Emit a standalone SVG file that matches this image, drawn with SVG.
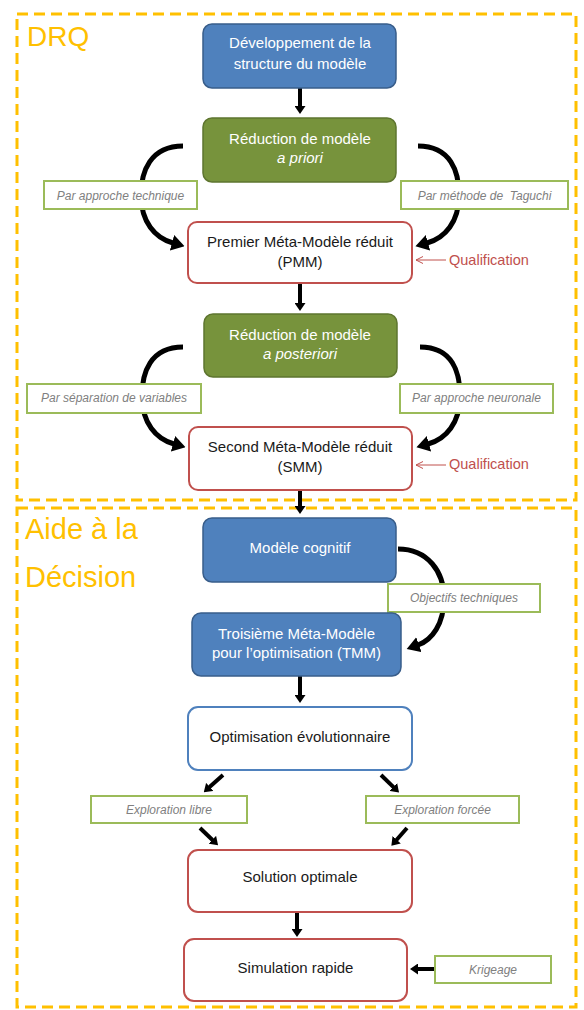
<svg xmlns="http://www.w3.org/2000/svg" width="584" height="1010" viewBox="0 0 584 1010">
<style>
.frame{fill:none;stroke:#FFC000;stroke-width:3;stroke-dasharray:11 6}
.title{font-family:"Liberation Sans",Arial,sans-serif;font-size:28px;fill:#FFC000}
.blue{fill:#4F81BD;stroke:#385D8A;stroke-width:1.5}
.green{fill:#77933C;stroke:#5E752F;stroke-width:1.5}
.red{fill:#fff;stroke:#C0504D;stroke-width:2}
.bluel{fill:#fff;stroke:#4F81BD;stroke-width:2}
.lab{fill:#fff;stroke:#9BBB59;stroke-width:2}
.t{font-family:"Liberation Sans",Arial,sans-serif;font-size:15px;text-anchor:middle}
.w{fill:#fff}
.k{fill:#1a1a1a}
.it{font-style:italic}
.lt{font-family:"Liberation Sans",Arial,sans-serif;font-size:12px;font-style:italic;fill:#808080;text-anchor:middle}
.q{font-family:"Liberation Sans",Arial,sans-serif;font-size:14.5px;fill:#C0504D}
.ar{stroke:#000;stroke-width:4;fill:none}
.cv{stroke:#000;stroke-width:5;fill:none}
.qa{stroke:#C0504D;stroke-width:1;fill:none}
</style>
<defs>
<marker id="ah" viewBox="0 0 8 11" refX="1" refY="5.5" markerWidth="8" markerHeight="11" markerUnits="userSpaceOnUse" orient="auto"><path d="M0,0 L8,5.5 L0,11 z" fill="#000"/></marker>
<marker id="ahc" viewBox="0 0 13 16" refX="1" refY="8" markerWidth="13" markerHeight="16" markerUnits="userSpaceOnUse" orient="auto"><path d="M0,0 L13,8 L0,16 z" fill="#000"/></marker>
<marker id="ahq" viewBox="0 0 8 8" refX="7" refY="4" markerWidth="8" markerHeight="8" markerUnits="userSpaceOnUse" orient="auto"><path d="M0,0.5 L7,4 L0,7.5" fill="none" stroke="#C0504D" stroke-width="1"/></marker>
</defs>

<g id="frames">
<rect class="frame" x="17" y="14" width="559" height="486"/>
<rect class="frame" x="17" y="508" width="559" height="499"/>
<text class="title" x="27" y="46">DRQ</text>
<text class="title" x="25" y="539" style="font-size:29px">Aide à la</text>
<text class="title" x="25" y="587" style="font-size:29px">Décision</text>
</g>

<g id="connectors">
<line class="ar" x1="300" y1="88" x2="300" y2="107" marker-end="url(#ah)"/>
<line class="ar" x1="300" y1="283" x2="300" y2="304" marker-end="url(#ah)"/>
<line class="ar" x1="300" y1="490" x2="300" y2="507" marker-end="url(#ah)"/>
<line class="ar" x1="300" y1="676" x2="300" y2="696" marker-end="url(#ah)"/>
<line class="ar" x1="297" y1="912" x2="297" y2="930" marker-end="url(#ah)"/>
<path class="cv" d="M183,146 C150,146 141,172 141,195 C141,222 155,238 173,243" marker-end="url(#ahc)"/>
<path class="cv" d="M418,146 C451,146 459,172 459,195 C459,222 445,238 427,243" marker-end="url(#ahc)"/>
<path class="cv" d="M183,347 C150,347 142,373 142,396 C142,423 156,439 174,444" marker-end="url(#ahc)"/>
<path class="cv" d="M420,347 C453,347 460,373 460,396 C460,423 446,439 428,444" marker-end="url(#ahc)"/>
<path class="cv" d="M398,549 C428,549 444,572 444,598 C444,624 432,640 418,645" marker-end="url(#ahc)"/>
<line class="ar" x1="223" y1="775" x2="209" y2="787.6" marker-end="url(#ah)"/>
<line class="ar" x1="381" y1="775" x2="394" y2="787.6" marker-end="url(#ah)"/>
<line class="ar" x1="200" y1="828" x2="213" y2="840.5" marker-end="url(#ah)"/>
<line class="ar" x1="407" y1="828" x2="396" y2="840.5" marker-end="url(#ah)"/>
<line class="ar" x1="435" y1="969" x2="417" y2="969" marker-end="url(#ah)"/>
<line class="qa" x1="446" y1="260" x2="416" y2="260" marker-end="url(#ahq)"/>
<line class="qa" x1="446" y1="465" x2="416" y2="465" marker-end="url(#ahq)"/>
</g>

<g id="n-dev">
<rect class="blue" x="203" y="24" width="193" height="64" rx="9"/>
<text class="t w" x="300" y="48">Développement de la</text>
<text class="t w" x="300" y="69">structure du modèle</text>
</g>
<g id="n-priori">
<rect class="green" x="203" y="118" width="193" height="64" rx="9"/>
<text class="t w" x="300" y="144">Réduction de modèle</text>
<text class="t w it" x="300" y="163">a priori</text>
</g>
<g id="l-tech">
<rect class="lab" x="44" y="181" width="153" height="28"/>
<text class="lt" x="120.5" y="200">Par approche technique</text>
</g>
<g id="l-taguchi">
<rect class="lab" x="401" y="181" width="167" height="28"/>
<text class="lt" x="484.5" y="200" style="white-space:pre">Par méthode de  Taguchi</text>
</g>
<g id="n-pmm">
<rect class="red" x="188" y="222" width="224" height="61" rx="9"/>
<text class="t k" x="300" y="247">Premier Méta-Modèle réduit</text>
<text class="t k" x="300" y="267">(PMM)</text>
</g>
<g id="q1"><text class="q" x="449" y="265">Qualification</text></g>
<g id="n-post">
<rect class="green" x="204" y="314" width="193" height="63" rx="9"/>
<text class="t w" x="300" y="340">Réduction de modèle</text>
<text class="t w it" x="300" y="359">a posteriori</text>
</g>
<g id="l-sep">
<rect class="lab" x="27" y="384" width="174" height="29"/>
<text class="lt" x="114" y="402">Par séparation de variables</text>
</g>
<g id="l-neur">
<rect class="lab" x="400" y="384" width="153" height="29"/>
<text class="lt" x="476.5" y="402">Par approche neuronale</text>
</g>
<g id="n-smm">
<rect class="red" x="189" y="427" width="223" height="63" rx="9"/>
<text class="t k" x="300" y="452">Second Méta-Modèle réduit</text>
<text class="t k" x="300" y="472">(SMM)</text>
</g>
<g id="q2"><text class="q" x="449" y="469">Qualification</text></g>
<g id="n-cog">
<rect class="blue" x="203" y="518" width="193" height="64" rx="9"/>
<text class="t w" x="300" y="553">Modèle cognitif</text>
</g>
<g id="l-obj">
<rect class="lab" x="388" y="584" width="152" height="28"/>
<text class="lt" x="464" y="602">Objectifs techniques</text>
</g>
<g id="n-tmm">
<rect class="blue" x="192" y="613" width="209" height="63" rx="9"/>
<text class="t w" x="296.5" y="639">Troisième Méta-Modèle</text>
<text class="t w" x="296.5" y="658">pour l’optimisation (TMM)</text>
</g>
<g id="n-opt">
<rect class="bluel" x="188" y="707" width="224" height="63" rx="10"/>
<text class="t k" x="300" y="742">Optimisation évolutionnaire</text>
</g>
<g id="l-libre">
<rect class="lab" x="91" y="796" width="156" height="27"/>
<text class="lt" x="169" y="814">Exploration libre</text>
</g>
<g id="l-forcee">
<rect class="lab" x="366" y="796" width="153" height="27"/>
<text class="lt" x="442.5" y="814">Exploration forcée</text>
</g>
<g id="n-sol">
<rect class="red" x="188" y="850" width="224" height="62" rx="10"/>
<text class="t k" x="300" y="882">Solution optimale</text>
</g>
<g id="n-sim">
<rect class="red" x="184" y="939" width="223" height="62" rx="10"/>
<text class="t k" x="295.5" y="973">Simulation rapide</text>
</g>
<g id="l-krig">
<rect class="lab" x="435" y="956" width="116" height="27"/>
<text class="lt" x="493" y="974">Krigeage</text>
</g>
</svg>
